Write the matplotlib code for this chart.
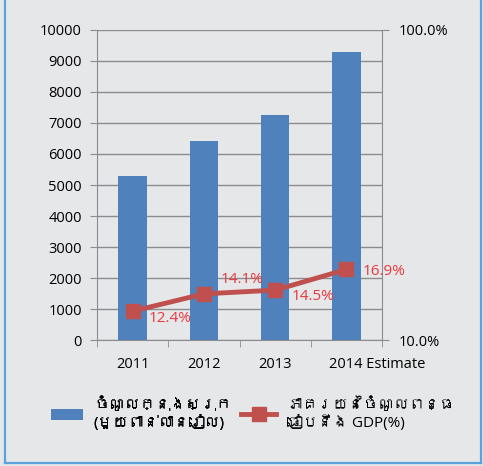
import matplotlib
matplotlib.use("Agg")
import matplotlib.pyplot as plt
import matplotlib.font_manager as fm
from matplotlib.ft2font import FT2Font
from matplotlib.patches import Patch
from matplotlib.lines import Line2D
from matplotlib.ticker import FixedLocator, NullLocator
import matplotlib.transforms as mtrans

categories = ["2011", "2012", "2013", "2014 Estimate"]
revenue = [5300, 6420, 7250, 9300]
ratio = [12.4, 14.1, 14.5, 16.9]
ratio_labels = ["12.4%", "14.1%", "14.5%", "16.9%"]
left_ticks = [0, 1000, 2000, 3000, 4000, 5000, 6000, 7000, 8000, 9000, 10000]
right_ticks = [10, 100]
right_tick_labels = ["10.0%", "100.0%"]
legend_labels = ["ចំណូលក្នុងស្រុក\n(មួយពាន់លានរៀល)", "ភាគរយនៃចំណូលពន្ធ\nធៀបនឹង GDP(%)"]

# look for any installed family with Khmer glyphs
khmer_family = None
seen = set()
paths = [f.fname for f in fm.fontManager.ttflist]
try:
    paths += fm.findSystemFonts()
except Exception:
    pass
for p in paths:
    if p in seen:
        continue
    seen.add(p)
    try:
        cm = FT2Font(p).get_charmap()
        if 0x1780 in cm and 0x17C6 in cm:
            try:
                fm.fontManager.addfont(p)
            except Exception:
                pass
            khmer_family = fm.FontProperties(fname=p).get_name()
            break
    except Exception:
        pass

families = ['Open Sans', 'DejaVu Sans']
if khmer_family:
    families = ['Open Sans', khmer_family, 'DejaVu Sans']
plt.rcParams['font.family'] = families

bg = "#E6E7E9"
fig = plt.figure(figsize=(4.83, 4.66), dpi=100, facecolor=bg)
ax = fig.add_axes([0.201, 0.270, 0.590, 0.666])
ax.set_facecolor(bg)
x = list(range(len(categories)))
ax.bar(x, revenue, width=0.4, color="#4F81BD", zorder=2)
ax.set_xlim(-0.5, 3.5)
ax.set_ylim(0, 10000)
ax.set_yticks(left_ticks)
ax.yaxis.grid(True, color="#8C8C8C", linewidth=1, zorder=0)
ax.set_axisbelow(True)
ax.set_xticks(x)
ax.set_xticklabels(categories)
ax.xaxis.set_minor_locator(FixedLocator([-0.5, 0.5, 1.5, 2.5, 3.5]))
ax.tick_params(axis='x', which='major', length=0, pad=12, labelsize=10.5)
ax.tick_params(axis='x', which='minor', length=5, color="#8C8C8C")
ax.tick_params(axis='y', length=5, color="#8C8C8C", labelsize=10.5, pad=6)
for s in ax.spines.values():
    s.set_color("#8C8C8C")
ax.spines['top'].set_visible(False)
# last category label is shifted right in the reference
last = ax.get_xticklabels()[-1]
last.set_transform(last.get_transform() + mtrans.ScaledTranslation(31 / 100, 0, fig.dpi_scale_trans))

ax2 = ax.twinx()
ax2.set_yscale('log')
ax2.set_ylim(10, 100)
ax2.yaxis.set_major_locator(FixedLocator(right_ticks))
ax2.yaxis.set_minor_locator(NullLocator())
ax2.set_yticklabels(right_tick_labels)
ax2.tick_params(axis='y', length=5, color="#8C8C8C", labelsize=10.5, pad=7)
for s in ax2.spines.values():
    s.set_visible(False)
ax2.plot(x, ratio, color="#C0504D", linewidth=3.5, marker='s', markersize=10,
         markerfacecolor="#C0504D", markeredgecolor="#C0504D", zorder=3)
offsets = [(11.5, -5), (12, 10), (12, -4.5), (12, -1.5)]
for xi, yi, lab, off in zip(x, ratio, ratio_labels, offsets):
    ax2.annotate(lab, (xi, yi), xytext=off, textcoords='offset points',
                 ha='left', va='center', color="#E8393F", fontsize=11)

h1 = [Patch(facecolor="#4F81BD")]
h2 = [Line2D([0], [0], color="#C0504D", linewidth=3.5, marker='s', markersize=10)]
leg_top = 1 - 397 / 466
leg1 = fig.legend(h1, [legend_labels[0]], loc='upper left',
                  bbox_to_anchor=(51 / 483, leg_top), borderpad=0, borderaxespad=0,
                  frameon=False, fontsize=11, handlelength=2.1, handletextpad=0.7,
                  labelspacing=0.2)
fig.add_artist(leg1)
fig.legend(h2, [legend_labels[1]], loc='upper left',
           bbox_to_anchor=(241 / 483, leg_top), borderpad=0, borderaxespad=0,
           frameon=False, fontsize=11, handlelength=2.3, handletextpad=0.7,
           labelspacing=0.2)

H = 466.0
W = 483.0
bc = "#5AA2DA"
fig.add_artist(Line2D([5 / W, 5 / W], [1, 1 - 463 / H], transform=fig.transFigure,
                      color=bc, linewidth=1.6))
fig.add_artist(Line2D([481 / W, 481 / W], [1, 1 - 463 / H], transform=fig.transFigure,
                      color=bc, linewidth=1.6))
fig.add_artist(Line2D([5 / W, 481 / W], [1 - 463 / H, 1 - 463 / H], transform=fig.transFigure,
                      color=bc, linewidth=1.6))
fig.savefig("out.png", dpi=100, facecolor=bg)
